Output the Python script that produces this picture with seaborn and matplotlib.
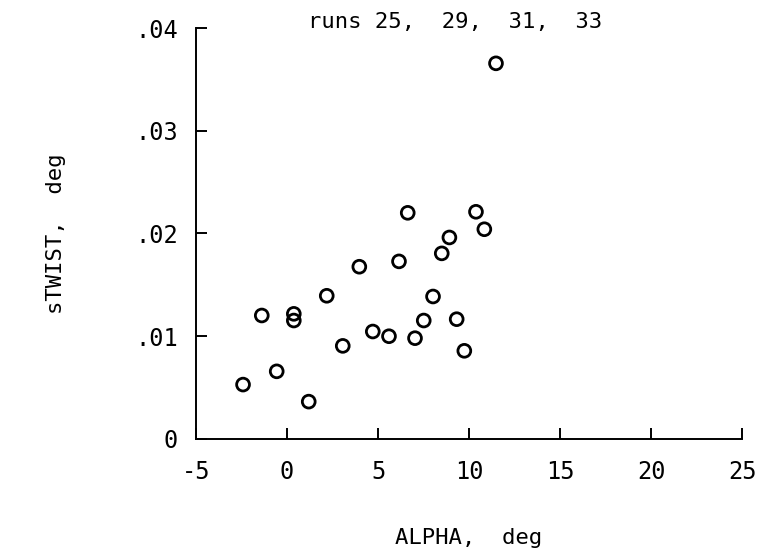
import matplotlib
matplotlib.use("Agg")
import matplotlib.pyplot as plt
import seaborn as sns
import pandas as pd

alpha = [-2.42, -1.39, -0.57, 0.37, 0.37, 1.19, 2.18, 3.06, 3.97, 4.71, 5.60,
         6.15, 6.63, 7.03, 7.51, 8.02, 8.50, 8.92, 9.32, 9.74, 10.38, 10.84, 11.48]
stwist = [0.00527, 0.0120, 0.00656, 0.01216, 0.01151, 0.00361, 0.01392, 0.00904,
          0.01675, 0.01044, 0.00998, 0.01727, 0.0220, 0.00979, 0.01151, 0.01385,
          0.01805, 0.0196, 0.01164, 0.00856, 0.0221, 0.0204, 0.03656]
x_ticks = [-5, 0, 5, 10, 15, 20, 25]
x_labels = ["-5", "0", "5", "10", "15", "20", "25"]
y_ticks = [0, 0.01, 0.02, 0.03, 0.04]
y_labels = ["0", ".01", ".02", ".03", ".04"]
title = "runs 25,  29,  31,  33"

sns.set_theme(style="white")
plt.rcParams['font.family'] = ['DejaVu Sans Mono', 'DejaVu Sans']

df = pd.DataFrame({"alpha": alpha, "stwist": stwist})

fig = plt.figure(figsize=(7.63, 5.57), dpi=100)
ax = fig.add_axes([0.257, 0.2124, 0.7155, 0.7373])
sns.scatterplot(data=df, x="alpha", y="stwist", ax=ax, marker="o",
                s=85, facecolor="none", edgecolor="black", linewidth=2.0)

ax.set_xlim(-5, 25)
ax.set_ylim(0, 0.04)
ax.set_xticks(x_ticks)
ax.set_xticklabels(x_labels)
ax.set_yticks(y_ticks)
ax.set_yticklabels(y_labels)
for s in ["top", "right"]:
    ax.spines[s].set_visible(False)
for s in ["left", "bottom"]:
    ax.spines[s].set_color("black")
    ax.spines[s].set_linewidth(1.4)
ax.tick_params(axis="both", direction="in", length=8, width=1.4, colors="black",
               labelsize=17, labelcolor="black", bottom=True, left=True)
ax.tick_params(axis="x", pad=15)
ax.tick_params(axis="y", pad=13)

ax.set_xlabel("ALPHA,  deg", fontsize=16, color="black", labelpad=32)
ax.set_ylabel("sTWIST,  deg", fontsize=16, color="black", labelpad=50)
fig.text(0.597, 0.96, title, fontsize=16, color="black", ha="center", va="center")

fig.savefig("out.png", dpi=100, facecolor="white")
